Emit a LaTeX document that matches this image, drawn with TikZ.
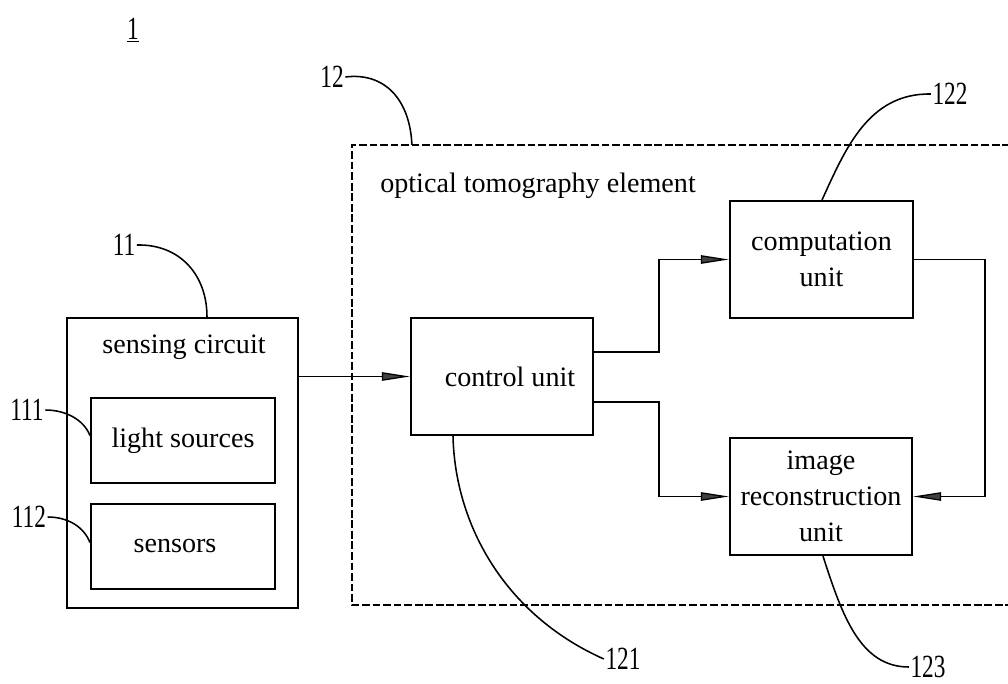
\documentclass[tikz,border=0pt]{standalone}
\usepackage{fontspec}
\setmainfont{Liberation Serif}
\newfontfamily\numfont[FakeStretch=0.72]{Liberation Serif}
\usetikzlibrary{arrows.meta,calc}

\begin{document}
\begin{tikzpicture}[x=0.025cm,y=-0.025cm,
  box/.style={draw, line width=1.5pt, inner sep=0pt, font=\fontsize{20}{25.5}\selectfont},
  txt/.style={inner sep=0pt, font=\fontsize{20}{25.5}\selectfont},
  num/.style={inner sep=1pt, font=\numfont\fontsize{23}{23}\selectfont},
  flow/.style={line width=0.9pt, -{Triangle[length=20pt,width=6pt,fill=black!75]}},
  lead/.style={line width=1.1pt},
  frame/.style={line width=1pt, dash pattern=on 5.5pt off 2pt}]

\useasboundingbox (0,0) rectangle (1008,684);

% figure number
\node[num] (fig) at (133,30) {\underline{1}};

% sensing circuit with its two parts
\node[box, minimum width=5.775cm, minimum height=7.25cm] (sense) at (182.5,463) {};
\node[txt] (sensetitle) at (184,347) {sensing circuit};
\node[box, minimum width=4.6cm, minimum height=2.125cm] (light) at (183,440.5) {light sources};
\node[box, minimum width=4.6cm, minimum height=2.125cm] (sensors) at (183,546.5) {sensors\hspace*{0.4cm}};

% optical tomography element (dashed frame, open to the right)
\node[inner sep=0pt, outer sep=0pt, minimum width=16.45cm, minimum height=11.5cm] (elem) at (681,375) {};
\draw[frame] (elem.north east) -- (elem.north west) -- (elem.south west) -- (elem.south east);
\node[txt, anchor=base west] (elemtitle) at (380,192) {optical tomography element};

\node[box, minimum width=4.55cm, minimum height=2.925cm] (control) at (502,376.5) {\hspace*{0.4cm}control unit};
\node[box, align=center, minimum width=4.575cm, minimum height=2.925cm] (comp) at (821.5,259.5) {computation\\unit};
\node[box, align=center, minimum width=4.55cm, minimum height=2.925cm] (image) at (821,496.5) {image\\reconstruction\\unit};

% signal flow
\draw[flow] (control.west -| sense.east) -- (control.west);
\draw[flow] ($(control.east)+(0,-24.5)$) -- ++(65,0) |- (comp.west);
\draw[flow] ($(control.east)+(0,25.5)$) -- ++(65,0) |- (image.west);
\draw[flow] (comp.east) -- ++(71,0) |- (image.east);

% reference numerals and leader lines
\node[num] (n12) at (332,77) {12};
\coordinate (elemtop) at ($(elem.north west)+(60,0)$);
\draw[lead] (n12.east) .. controls (385,72) and (410,100) .. (elemtop);

\node[num] (n11) at (124,245) {11};
\coordinate (sensetop) at ($(sense.north)+(24.5,0)$);
\draw[lead] (n11.east) .. controls (180,244) and (207,275) .. (sensetop);

\node[num] (n111) at (27,410) {111};
\coordinate (lightleft) at ($(light.west)+(0,-5)$);
\draw[lead] (n111.east) .. controls (66,410) and (84,420) .. (lightleft);

\node[num] (n112) at (29,517) {112};
\coordinate (sensorsleft) at ($(sensors.west)+(0,-4)$);
\draw[lead] (n112.east) .. controls (68,517) and (84,527) .. (sensorsleft);

\node[num] (n122) at (950,94) {122};
\coordinate (comptop) at ($(comp.north)+(0.5,0)$);
\draw[lead] (comptop) .. controls (845,150) and (868,93) .. (n122.west);

\node[num] (n121) at (623,659) {121};
\coordinate (controlbottom) at ($(control.south)+(-49,0)$);
\draw[lead] (controlbottom) .. controls (455,525) and (505,615) .. (n121.west);

\node[num] (n123) at (928,667) {123};
\coordinate (imagebottom) at ($(image.south)+(2,0)$);
\draw[lead] (imagebottom) .. controls (842,615) and (860,667) .. (n123.west);
\end{tikzpicture}
\end{document}
